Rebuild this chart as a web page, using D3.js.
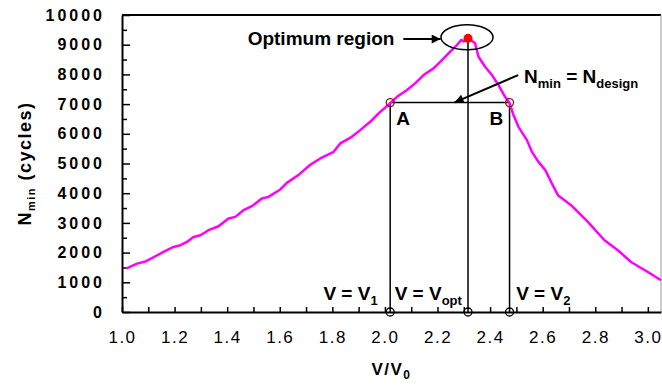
<!DOCTYPE html>
<html>
<head>
<meta charset="utf-8">
<script src="https://cdn.jsdelivr.net/npm/d3@7"></script>
<style>
  body { margin: 0; background: #fff; }
  svg text { font-family: "Liberation Sans", Arial, sans-serif; }
</style>
</head>
<body>
<div id="my_dataviz"></div>
<script>
// curve: V/V0 and Nmin (cycles)
var vRatio = [1.016, 1.057, 1.092, 1.127, 1.158, 1.196, 1.222, 1.247, 1.272, 1.298,
              1.329, 1.367, 1.405, 1.431, 1.462, 1.494, 1.532, 1.557, 1.602, 1.627,
              1.675, 1.716, 1.754, 1.805, 1.830, 1.874, 1.906, 1.944, 1.976, 2.020,
              2.046, 2.084, 2.115, 2.147, 2.185, 2.217, 2.248, 2.274, 2.290, 2.300,
              2.318, 2.343, 2.356, 2.381, 2.407, 2.432, 2.457, 2.474, 2.489, 2.508,
              2.540, 2.559, 2.584, 2.610, 2.635, 2.658, 2.708, 2.772, 2.835, 2.886,
              2.936, 3.000, 3.050];
var nMin = [1463, 1630, 1710, 1877, 2022, 2190, 2248, 2360, 2528, 2585,
            2754, 2888, 3148, 3202, 3428, 3562, 3822, 3876, 4125, 4348,
            4641, 4960, 5170, 5393, 5676, 5898, 6124, 6404, 6687, 7030,
            7246, 7472, 7698, 7978, 8204, 8483, 8763, 8989, 9160, 9110,
            9215, 9046, 8594, 8257, 7978, 7641, 7246, 7040, 6630, 6235,
            5787, 5393, 5056, 4776, 4328, 3933, 3596, 3033, 2417, 2080,
            1685, 1348, 1068];

// key points
var vOne = 2.020, vOpt = 2.316, vTwo = 2.474;
var nDesign = 7050, nPeak = 9215;

var xTicks = [1.0, 1.2, 1.4, 1.6, 1.8, 2.0, 2.2, 2.4, 2.6, 2.8, 3.0];
var yTicks = [0, 1000, 2000, 3000, 4000, 5000, 6000, 7000, 8000, 9000, 10000];

// set the dimensions and margins of the graph
var margin = {top: 15, right: 1, bottom: 73, left: 122},
    width = 662 - margin.left - margin.right,
    height = 385 - margin.top - margin.bottom;

var svg = d3.select("#my_dataviz")
            .append("svg")
              .attr("width", 662)
              .attr("height", 385)
            .append("g")
              .attr("transform", "translate(" + margin.left + "," + margin.top + ")");

var x = d3.scaleLinear().domain([1, 3.05]).range([0, width]);
var y = d3.scaleLinear().domain([0, 10000]).range([height, 0]);

// frame: top black, right grey
svg.append("line").attr("x1", 0).attr("x2", width).attr("y1", 0).attr("y2", 0)
   .attr("stroke", "#000").attr("stroke-width", 2);
svg.append("line").attr("x1", width).attr("x2", width).attr("y1", 0).attr("y2", height)
   .attr("stroke", "#999").attr("stroke-width", 1);

// minor ticks
svg.append("g")
   .call(d3.axisLeft(y).tickValues(d3.range(500, 10000, 1000)).tickSize(-5).tickFormat(""))
   .call(g => g.select(".domain").remove())
   .selectAll("line").attr("stroke-width", 1.5);
svg.append("g")
   .attr("transform", "translate(0," + height + ")")
   .call(d3.axisBottom(x).tickValues(d3.range(1.1, 3.05, 0.2)).tickSize(-5).tickFormat(""))
   .call(g => g.select(".domain").remove())
   .selectAll("line").attr("stroke-width", 1.5);

// y axis
var yAxis = svg.append("g")
   .call(d3.axisLeft(y).tickValues(yTicks).tickSize(-8).tickPadding(17).tickSizeOuter(0)
           .tickFormat(d3.format("d")));
yAxis.select(".domain").attr("stroke-width", 2);
yAxis.selectAll("line").attr("stroke-width", 1.5);
yAxis.selectAll("text")
     .style("font-size", "16px").style("font-weight", "bold")
     .style("letter-spacing", "3px").attr("fill", "#000");

// x axis
var xAxis = svg.append("g")
   .attr("transform", "translate(0," + height + ")")
   .call(d3.axisBottom(x).tickValues(xTicks).tickSize(-5).tickPadding(19).tickSizeOuter(0)
           .tickFormat(d3.format(".1f")));
xAxis.select(".domain").attr("stroke-width", 2);
xAxis.selectAll("line").attr("stroke-width", 1.5);
xAxis.selectAll("text")
     .style("font-size", "17px").style("letter-spacing", "1.5px").attr("fill", "#000");

// axis titles
var xt = svg.append("text")
   .attr("x", width / 2).attr("y", height + 63)
   .attr("text-anchor", "middle")
   .style("font-size", "17px").style("font-weight", "bold").style("letter-spacing", "1.5px");
xt.append("tspan").text("V/V");
xt.append("tspan").attr("dy", 4).style("font-size", "12px").text("0");

var yt = svg.append("text")
   .attr("transform", "translate(" + (-margin.left + 31) + "," + (height / 2) + ") rotate(-90)")
   .attr("text-anchor", "middle")
   .style("font-size", "18px").style("font-weight", "bold").style("letter-spacing", "1.5px");
yt.append("tspan").text("N");
yt.append("tspan").attr("dy", 4).style("font-size", "11px").text("min");
yt.append("tspan").attr("dy", -4).text(" (cycles)");

// construction lines
var lines = svg.append("g").attr("stroke", "#000").attr("stroke-width", 1.5);
lines.append("line").attr("x1", x(vOne)).attr("x2", x(vTwo))
     .attr("y1", y(nDesign)).attr("y2", y(nDesign));
[[vOne, nDesign], [vOpt, nPeak], [vTwo, nDesign]].forEach(function (p) {
  lines.append("line").attr("x1", x(p[0])).attr("x2", x(p[0]))
       .attr("y1", y(p[1])).attr("y2", y(0));
});

// curve
var pts = vRatio.map(function (v, i) { return [v, nMin[i]]; });
svg.append("path")
   .datum(pts)
   .attr("fill", "none")
   .attr("stroke", "#FF00FF")
   .attr("stroke-width", 2.5)
   .attr("stroke-linejoin", "round")
   .attr("d", d3.line().x(d => x(d[0])).y(d => y(d[1])));

// markers
svg.selectAll(".ab").data([vOne, vTwo]).enter().append("circle")
   .attr("cx", d => x(d)).attr("cy", y(nDesign)).attr("r", 4)
   .attr("fill", "none").attr("stroke", "#8B1A1A").attr("stroke-width", 1.3);
svg.selectAll(".bot").data([vOne, vOpt, vTwo]).enter().append("circle")
   .attr("cx", d => x(d)).attr("cy", y(0)).attr("r", 4)
   .attr("fill", "none").attr("stroke", "#000").attr("stroke-width", 1.3);
svg.append("ellipse")
   .attr("cx", x(vOpt) - 1).attr("cy", y(nPeak) - 1).attr("rx", 26).attr("ry", 12.5)
   .attr("fill", "none").attr("stroke", "#000").attr("stroke-width", 1.5);
svg.append("circle")
   .attr("cx", x(vOpt)).attr("cy", y(nPeak)).attr("r", 4.5).attr("fill", "#FF0000");

// arrows
svg.append("defs").append("marker")
   .attr("id", "head").attr("viewBox", "0 0 10 10")
   .attr("refX", 10).attr("refY", 5)
   .attr("markerWidth", 11).attr("markerHeight", 9)
   .attr("markerUnits", "userSpaceOnUse")
   .attr("orient", "auto")
   .append("path").attr("d", "M0,0 L10,5 L0,10 Z").attr("fill", "#000");
var arrows = [[2.070, 9191, 2.212, 9191], [2.507, 7978, 2.265, 7060]];
arrows.forEach(function (a) {
  svg.append("line")
     .attr("x1", x(a[0])).attr("y1", y(a[1])).attr("x2", x(a[2])).attr("y2", y(a[3]))
     .attr("stroke", "#000").attr("stroke-width", 2)
     .attr("marker-end", "url(#head)");
});

// labels
function label(vx, ny, parts, anchor) {
  var t = svg.append("text")
     .attr("x", x(vx)).attr("y", y(ny))
     .attr("text-anchor", anchor || "start")
     .style("font-size", "19px").style("font-weight", "bold");
  parts.forEach(function (p) {
    var s = t.append("tspan").text(p[0]);
    if (p[1]) s.attr("dy", p[1]);
    if (p[2]) s.style("font-size", p[2]);
  });
}
label(2.036, 8990, [["Optimum region"]], "end");
label(2.529, 7708, [["N"], ["min", 5, "13px"], [" = N", -5], ["design", 5, "13px"]]);
label(2.043, 6300, [["A"]]);
label(2.398, 6300, [["B"]]);
label(1.766, 394, [["V = V"], ["1", 5, "13px"]]);
label(2.037, 394, [["V = V"], ["opt", 5, "13px"]]);
label(2.499, 394, [["V = V"], ["2", 5, "13px"]]);
</script>
</body>
</html>
